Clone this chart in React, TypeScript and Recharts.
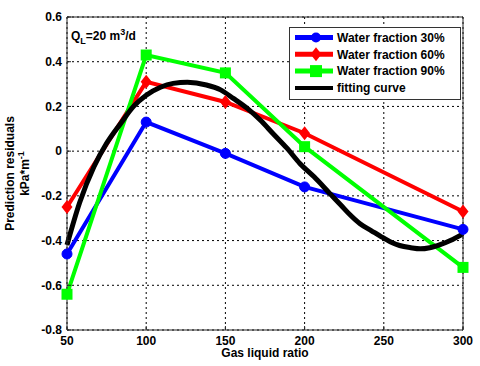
import React from 'react';
import { LineChart, Line, XAxis, YAxis, CartesianGrid, Legend } from 'recharts';

const gasLiquidRatio = [50, 100, 150, 200, 300];
const waterFraction30 = [-0.46, 0.13, -0.01, -0.16, -0.35];
const waterFraction60 = [-0.25, 0.31, 0.22, 0.08, -0.27];
const waterFraction90 = [-0.64, 0.43, 0.35, 0.02, -0.52];

const fitX = [50, 58, 67, 75, 84, 92, 100, 109, 117, 126, 138, 147, 155, 164, 172, 180, 189, 197, 206, 216, 223, 229, 235, 242, 248, 254, 260, 267, 273, 279, 286, 292, 300];
const fitY = [-0.42, -0.23, -0.07, 0.035, 0.125, 0.2, 0.25, 0.286, 0.303, 0.308, 0.296, 0.274, 0.236, 0.19, 0.139, 0.079, 0.012, -0.055, -0.115, -0.19, -0.242, -0.287, -0.325, -0.355, -0.381, -0.405, -0.422, -0.432, -0.437, -0.432, -0.417, -0.4, -0.37];

const xTicks = [50, 100, 150, 200, 250, 300];
const yTicks = [-0.8, -0.6, -0.4, -0.2, 0, 0.2, 0.4, 0.6];

const seriesNames = ['Water fraction 30%', 'Water fraction 60%', 'Water fraction 90%', 'fitting curve'];
const seriesColors = ['#0000ff', '#ff0000', '#00ff00', '#000000'];

const toPoints = (xs: number[], ys: number[]) => xs.map((x, i) => ({ x, y: ys[i] }));

const d30 = toPoints(gasLiquidRatio, waterFraction30);
const d60 = toPoints(gasLiquidRatio, waterFraction60);
const d90 = toPoints(gasLiquidRatio, waterFraction90);
const dFit = toPoints(fitX, fitY);

const FONT = '"Liberation Sans", Arial, sans-serif';
const AXIS = '#262626';

const circleDot = (p: any) => (
  <circle key={`c${p.index}`} cx={p.cx} cy={p.cy} r={5} fill="#0000ff" stroke="#0000ff" />
);
const diamondDot = (p: any) => (
  <polygon
    key={`d${p.index}`}
    points={`${p.cx},${p.cy - 7} ${p.cx + 5.5},${p.cy} ${p.cx},${p.cy + 7} ${p.cx - 5.5},${p.cy}`}
    fill="#ff0000"
  />
);
const squareDot = (p: any) => (
  <rect key={`s${p.index}`} x={p.cx - 5.5} y={p.cy - 5.5} width={11} height={11} fill="#00ff00" />
);

const markerFor = (i: number, cx: number, cy: number) => {
  if (i === 0) return <circle cx={cx} cy={cy} r={5} fill="#0000ff" />;
  if (i === 1)
    return <polygon points={`${cx},${cy - 7} ${cx + 5.5},${cy} ${cx},${cy + 7} ${cx - 5.5},${cy}`} fill="#ff0000" />;
  if (i === 2) return <rect x={cx - 6} y={cy - 6} width={12} height={12} fill="#00ff00" />;
  return <circle cx={cx} cy={cy} r={2} fill="#000000" />;
};

const renderLegend = () => (
  <svg width={173} height={74} style={{ display: 'block' }}>
    <rect x={0.5} y={0.5} width={171} height={72} fill="#ffffff" stroke="#333333" strokeWidth={1} />
    {seriesNames.map((name, i) => {
      const cy = 10.5 + i * 16.8;
      return (
        <g key={name}>
          <line x1={6} x2={44} y1={cy} y2={cy} stroke={seriesColors[i]} strokeWidth={i === 3 ? 4 : 5} />
          {markerFor(i, 27, cy)}
          <text x={48} y={cy + 4.3} fontFamily={FONT} fontWeight="bold" fontSize={12} fill="#000">
            {name}
          </text>
        </g>
      );
    })}
  </svg>
);

const renderYLabel = (props: any) => {
  const vb = props.viewBox || { x: 0, y: 17, width: 67, height: 313 };
  const cy = vb.y + vb.height / 2;
  return (
    <g>
      <text
        x={14}
        y={cy}
        transform={`rotate(-90 14 ${cy})`}
        textAnchor="middle"
        fontFamily={FONT}
        fontWeight="bold"
        fontSize={12}
        fill="#000"
      >
        Prediction residuals
      </text>
      <text
        x={29}
        y={cy}
        transform={`rotate(-90 29 ${cy})`}
        textAnchor="middle"
        fontFamily={FONT}
        fontWeight="bold"
        fontSize={12}
        fill="#000"
      >
        kPa*m<tspan fontSize={9} dy={-5}>-1</tspan>
      </text>
    </g>
  );
};

const renderXLabel = (props: any) => {
  const vb = props.viewBox || { x: 67, y: 330, width: 396, height: 36 };
  const cx = vb.x + vb.width / 2;
  return (
    <text x={cx} y={357} textAnchor="middle" fontFamily={FONT} fontWeight="bold" fontSize={12} fill="#000">
      Gas liquid ratio
    </text>
  );
};

const tickStyle = { fontFamily: FONT, fontWeight: 'bold', fontSize: 12, fill: '#000' } as any;

export default function App() {
  return (
    <div style={{ position: 'absolute', left: 0, top: 0, width: 480, height: 366, background: '#ffffff' }}>
      <LineChart width={480} height={366} margin={{ top: 0, right: 0, bottom: 0, left: 0 }}>
        <CartesianGrid stroke="#000000" strokeDasharray="2 3" strokeWidth={1} />
        <XAxis
          dataKey="x"
          type="number"
          domain={[50, 300]}
          ticks={xTicks}
          height={36}
          tickSize={-4}
          tickMargin={10}
          stroke={AXIS}
          tick={tickStyle}
          label={{ content: renderXLabel } as any}
        />
        <XAxis
          xAxisId="top"
          orientation="top"
          dataKey="x"
          type="number"
          domain={[50, 300]}
          ticks={xTicks}
          height={17}
          tickSize={-4}
          stroke={AXIS}
          tickFormatter={() => ''}
        />
        <YAxis
          type="number"
          domain={[-0.8, 0.6]}
          ticks={yTicks}
          width={67}
          tickSize={-4}
          tickMargin={9}
          stroke={AXIS}
          tick={tickStyle}
          tickFormatter={(v: number) => (v === 0 ? '0' : v.toFixed(1))}
          label={{ content: renderYLabel } as any}
        />
        <YAxis
          yAxisId="right"
          orientation="right"
          type="number"
          domain={[-0.8, 0.6]}
          ticks={yTicks}
          width={17}
          tickSize={-4}
          stroke={AXIS}
          tickFormatter={() => ''}
        />
        <Legend
          layout="vertical"
          align="center"
          verticalAlign="middle"
          content={renderLegend}
          wrapperStyle={{ position: 'absolute', left: 289, top: 27, width: 173, height: 74 }}
        />
        <Line
          data={d30}
          dataKey="y"
          name={seriesNames[0]}
          stroke="#0000ff"
          strokeWidth={4}
          dot={circleDot}
          isAnimationActive={false}
        />
        <Line
          data={d60}
          dataKey="y"
          name={seriesNames[1]}
          stroke="#ff0000"
          strokeWidth={4}
          dot={diamondDot}
          isAnimationActive={false}
        />
        <Line
          data={d90}
          dataKey="y"
          name={seriesNames[2]}
          stroke="#00ff00"
          strokeWidth={4}
          dot={squareDot}
          isAnimationActive={false}
        />
        <Line
          data={dFit}
          dataKey="y"
          name={seriesNames[3]}
          type="monotone"
          stroke="#000000"
          strokeWidth={5}
          dot={false}
          isAnimationActive={false}
        />
        <text x={71} y={40} fontFamily={FONT} fontWeight="bold" fontSize={12} fill="#000">
          Q<tspan fontSize={9} dy={4}>L</tspan>
          <tspan dy={-4}>=20 m</tspan>
          <tspan fontSize={9} dy={-5}>3</tspan>
          <tspan dy={5}>/d</tspan>
        </text>
      </LineChart>
    </div>
  );
}
